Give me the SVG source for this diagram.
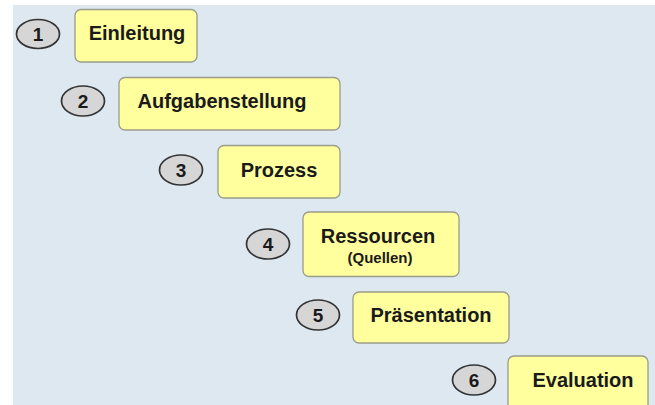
<svg xmlns="http://www.w3.org/2000/svg" width="655" height="405" viewBox="0 0 655 405">
<style>
.box{fill:#ffff9e;stroke:#9c9c8a;stroke-width:1.3}
.num{fill:#d6d6d6;stroke:#333;stroke-width:1.7}
.t{font-family:"Liberation Sans",Arial,sans-serif;font-weight:bold;font-size:20px;fill:#1a1a1a;text-anchor:middle}
.n{font-family:"Liberation Sans",Arial,sans-serif;font-weight:bold;font-size:19px;fill:#1a1a1a;text-anchor:middle}
.s{font-family:"Liberation Sans",Arial,sans-serif;font-weight:bold;font-size:15px;fill:#1a1a1a;text-anchor:middle}
</style>
<rect x="0" y="0" width="655" height="405" fill="#ffffff"/>
<rect x="13" y="5" width="642" height="400" fill="#dde8f1"/>
<g id="connectors"></g>
<g id="step1">
<ellipse class="num" cx="38" cy="34" rx="21.5" ry="14.5"/>
<text class="n" x="38" y="41">1</text>
<rect class="box" x="75" y="9.5" width="122" height="52.5" rx="6"/>
<text class="t" x="137" y="40">Einleitung</text>
</g>
<g id="step2">
<ellipse class="num" cx="83" cy="101" rx="21.5" ry="15"/>
<text class="n" x="83" y="108">2</text>
<rect class="box" x="119" y="77.5" width="221" height="52.5" rx="6"/>
<text class="t" x="222" y="108">Aufgabenstellung</text>
</g>
<g id="step3">
<ellipse class="num" cx="181" cy="170" rx="21.5" ry="15"/>
<text class="n" x="181" y="177">3</text>
<rect class="box" x="218" y="145.5" width="122" height="52.5" rx="6"/>
<text class="t" x="279" y="177">Prozess</text>
</g>
<g id="step4">
<ellipse class="num" cx="268" cy="244" rx="21.5" ry="15"/>
<text class="n" x="268" y="251">4</text>
<rect class="box" x="303" y="212" width="156" height="64.5" rx="6"/>
<text class="t" x="378" y="243">Ressourcen</text>
<text class="s" x="380" y="263">(Quellen)</text>
</g>
<g id="step5">
<ellipse class="num" cx="318" cy="315" rx="21.5" ry="15"/>
<text class="n" x="318" y="322">5</text>
<rect class="box" x="353" y="292" width="156" height="51" rx="6"/>
<text class="t" x="431" y="322">Präsentation</text>
</g>
<g id="step6">
<ellipse class="num" cx="474" cy="380" rx="21.5" ry="15"/>
<text class="n" x="474" y="387">6</text>
<rect class="box" x="508" y="356" width="140" height="60" rx="6"/>
<text class="t" x="583" y="387">Evaluation</text>
</g>
</svg>
